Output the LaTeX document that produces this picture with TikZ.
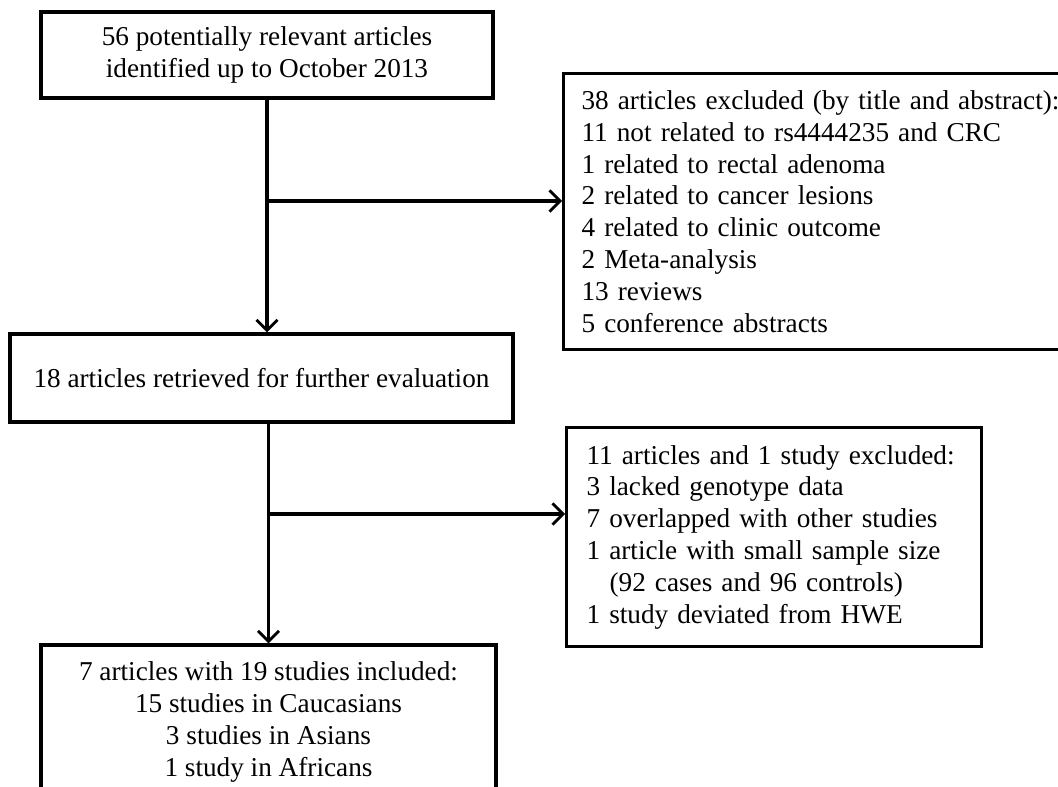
\documentclass[tikz,border=0pt]{standalone}
\usepackage{fontspec}
\setmainfont{Liberation Serif}
\usetikzlibrary{arrows.meta}
\begin{document}
\begin{tikzpicture}[x=0.02cm, y=-0.02cm,
	box/.style={draw, line width=1.8pt, inner sep=0pt, font=\fontsize{15.5}{18.1}\selectfont},
	flow/.style={line width=1.8pt, -{Straight Barb[length=6pt, width=12pt, line width=1.6pt]}}]

	\useasboundingbox (0,0) rectangle (1058,787);
	\clip (0,0) rectangle (1058,787);

	\node[box, align=center, minimum width=9.04cm, minimum height=1.72cm] (found) at (267,55)
		{56 potentially relevant articles\\identified up to October 2013};

	\node[box, anchor=north west, align=left, inner xsep=0.36cm, text width=10.5cm, minimum height=5.52cm] (excl1) at (562,72)
		{38 articles excluded (by title and abstract):\\
		11 not related to rs4444235 and CRC\\
		1 related to rectal adenoma\\
		2 related to cancer lesions\\
		4 related to clinic outcome\\
		2 Meta-analysis\\
		13 reviews\\
		5 conference abstracts};

	\node[box, align=center, minimum width=10.06cm, minimum height=1.76cm] (retr) at (261.5,378)
		{18 articles retrieved for further evaluation};

	\node[box, anchor=north west, align=left, inner xsep=0.4cm, text width=7.5cm, minimum height=4.38cm] (excl2) at (565,426)
		{11 articles and 1 study excluded:\\
		3 lacked genotype data\\
		7 overlapped with other studies\\
		1 article with small sample size\\
		\hspace*{0.46cm}(92 cases and 96 controls)\\
		1 study deviated from HWE};

	\node[box, align=center, minimum width=9.1cm, minimum height=3.08cm] (incl) at (268.5,722)
		{7 articles with 19 studies included:\\
		15 studies in Caucasians\\
		3 studies in Asians\\
		1 study in Africans};

	% connectors
	\coordinate (fork1) at (found.south |- 0,201);
	\coordinate (fork2) at (incl.north |- 0,514);
	\draw[flow] (found.south) -- (found.south |- retr.north);
	\draw[flow] (fork1) -- (fork1 -| excl1.west);
	\draw[flow] (incl.north |- retr.south) -- (incl.north);
	\draw[flow] (fork2) -- (fork2 -| excl2.west);

\end{tikzpicture}
\end{document}
